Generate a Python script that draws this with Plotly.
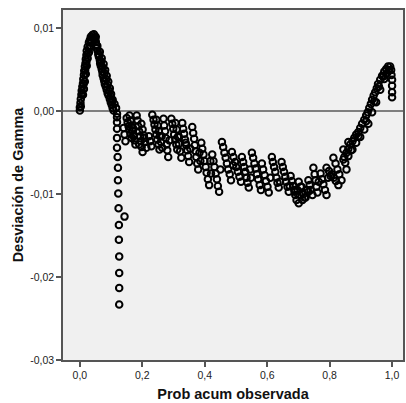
import plotly.graph_objects as go

rise_x = [0.000, 0.000, 0.002, 0.003, 0.005, 0.006, 0.008, 0.010, 0.011, 0.013, 0.014, 0.016,
          0.018, 0.019, 0.021, 0.022, 0.025, 0.029, 0.032, 0.035, 0.040, 0.045,
          0.010, 0.013, 0.016, 0.019, 0.022, 0.025, 0.029, 0.033, 0.038, 0.051,
          0.003, 0.007, 0.012, 0.017, 0.021, 0.026, 0.030, 0.036, 0.042, 0.047]
rise_y = [0.0001, 0.0005, 0.0010, 0.0015, 0.0020, 0.0025, 0.0030, 0.0034, 0.0039, 0.0044, 0.0049, 0.0054,
          0.0058, 0.0063, 0.0068, 0.0073, 0.0078, 0.0083, 0.0086, 0.0090, 0.0092, 0.0093,
          0.0020, 0.0027, 0.0036, 0.0045, 0.0055, 0.0064, 0.0071, 0.0079, 0.0085, 0.0090,
          0.0006, 0.0022, 0.0033, 0.0050, 0.0060, 0.0070, 0.0076, 0.0083, 0.0088, 0.0089]

fall_x = [0.049, 0.051, 0.053, 0.054, 0.057, 0.059, 0.061, 0.064, 0.065, 0.067, 0.070, 0.072, 0.073,
          0.076, 0.078, 0.080, 0.083, 0.086, 0.089, 0.092, 0.096, 0.099, 0.102, 0.105, 0.108,
          0.064, 0.070, 0.076, 0.081, 0.086, 0.091, 0.096, 0.100, 0.105, 0.111, 0.116,
          0.056, 0.062, 0.068, 0.074, 0.079, 0.084, 0.089, 0.094, 0.099, 0.104]
fall_y = [0.0087, 0.0084, 0.0080, 0.0076, 0.0073, 0.0069, 0.0066, 0.0062, 0.0058, 0.0055, 0.0051, 0.0048, 0.0044,
          0.0040, 0.0037, 0.0033, 0.0030, 0.0026, 0.0022, 0.0019, 0.0015, 0.0011, 0.0008, 0.0004, 0.0001,
          0.0072, 0.0064, 0.0057, 0.0050, 0.0043, 0.0036, 0.0028, 0.0021, 0.0014, 0.0009, 0.0004,
          0.0079, 0.0068, 0.0060, 0.0053, 0.0046, 0.0039, 0.0032, 0.0025, 0.0018, 0.0012]

drop_x = [0.119, 0.119, 0.119, 0.119, 0.119, 0.119, 0.121, 0.122, 0.122, 0.123, 0.124,
          0.143, 0.125, 0.125, 0.126, 0.126, 0.126, 0.126]
drop_y = [-0.0003, -0.0007, -0.0013, -0.0021, -0.0032, -0.0044, -0.0055, -0.0068, -0.0083, -0.0099, -0.0117,
          -0.0127, -0.0137, -0.0155, -0.0175, -0.0195, -0.0213, -0.0233]

band_x = [
    0.150, 0.153, 0.156, 0.159, 0.162, 0.166,
    0.159, 0.162, 0.165, 0.168, 0.171, 0.175, 0.178,
    0.182, 0.185, 0.187, 0.190, 0.193, 0.195, 0.198, 0.201,
    0.197, 0.201, 0.205, 0.209, 0.213,
    0.232, 0.236, 0.239, 0.242, 0.245, 0.248, 0.252, 0.255,
    0.245, 0.249, 0.253, 0.256, 0.260, 0.264,
    0.268, 0.270, 0.273, 0.275, 0.278, 0.280, 0.283,
    0.293, 0.296, 0.299, 0.302, 0.306, 0.309, 0.312,
    0.306, 0.310, 0.314, 0.317, 0.321, 0.325,
    0.328, 0.331, 0.334, 0.337, 0.341, 0.344, 0.347, 0.350,
    0.360, 0.363, 0.366, 0.368, 0.371, 0.373, 0.376, 0.379,
    0.389, 0.392, 0.396, 0.399, 0.403, 0.406, 0.410, 0.414,
    0.424, 0.428, 0.431, 0.435, 0.439, 0.442, 0.446,
    0.455, 0.459, 0.463, 0.467, 0.471, 0.475, 0.480, 0.484,
    0.487, 0.492, 0.497, 0.501, 0.506, 0.511, 0.516,
    0.519, 0.523, 0.526, 0.530, 0.534, 0.537, 0.541,
    0.551, 0.555, 0.559, 0.563, 0.567, 0.571, 0.576, 0.580,
    0.583, 0.587, 0.592, 0.596, 0.601, 0.605,
    0.615, 0.618, 0.622, 0.626, 0.630, 0.633, 0.637,
    0.646, 0.650, 0.654, 0.658, 0.661, 0.665, 0.669,
    0.675, 0.679, 0.683, 0.687, 0.690, 0.694,
    0.688, 0.704, 0.713, 0.701, 0.723, 0.732, 0.710,
    0.701, 0.707, 0.713, 0.720,
    0.732, 0.736, 0.739, 0.745,
    0.748, 0.752, 0.755, 0.758, 0.761,
    0.771, 0.776, 0.780, 0.785, 0.790,
    0.790, 0.798, 0.806, 0.813, 0.820, 0.828,
    0.812, 0.819, 0.825, 0.831, 0.838,
    0.847, 0.850, 0.854,
    # extra circles filling the dense streaks
    0.140, 0.143, 0.146, 0.170, 0.173, 0.190, 0.206, 0.221, 0.225, 0.229, 0.262, 0.287,
    0.316, 0.339, 0.354, 0.383, 0.386, 0.418, 0.420, 0.450, 0.491, 0.545, 0.548,
    0.610, 0.641, 0.672, 0.697, 0.716, 0.727, 0.765, 0.795, 0.803,
]
band_y = [
    -0.0008, -0.0013, -0.0018, -0.0022, -0.0027, -0.0032,
    -0.0005, -0.0011, -0.0017, -0.0023, -0.0029, -0.0035, -0.0040,
    -0.0005, -0.0011, -0.0018, -0.0024, -0.0030, -0.0036, -0.0043, -0.0049,
    -0.0015, -0.0022, -0.0029, -0.0037, -0.0044,
    -0.0004, -0.0010, -0.0016, -0.0022, -0.0028, -0.0034, -0.0040, -0.0046,
    -0.0010, -0.0017, -0.0024, -0.0030, -0.0037, -0.0044,
    -0.0009, -0.0017, -0.0024, -0.0032, -0.0040, -0.0047, -0.0055,
    -0.0009, -0.0015, -0.0021, -0.0028, -0.0034, -0.0040, -0.0046,
    -0.0014, -0.0022, -0.0031, -0.0039, -0.0048, -0.0056,
    -0.0014, -0.0021, -0.0027, -0.0034, -0.0041, -0.0047, -0.0054, -0.0061,
    -0.0019, -0.0026, -0.0033, -0.0041, -0.0048, -0.0055, -0.0063, -0.0070,
    -0.0038, -0.0045, -0.0052, -0.0060, -0.0067, -0.0074, -0.0082, -0.0089,
    -0.0052, -0.0060, -0.0067, -0.0075, -0.0082, -0.0090, -0.0097,
    -0.0037, -0.0043, -0.0050, -0.0056, -0.0063, -0.0070, -0.0076, -0.0083,
    -0.0049, -0.0055, -0.0061, -0.0067, -0.0073, -0.0079, -0.0085,
    -0.0055, -0.0061, -0.0067, -0.0073, -0.0080, -0.0086, -0.0092,
    -0.0050, -0.0056, -0.0063, -0.0069, -0.0076, -0.0082, -0.0089, -0.0095,
    -0.0063, -0.0070, -0.0077, -0.0084, -0.0091, -0.0098,
    -0.0055, -0.0061, -0.0067, -0.0073, -0.0080, -0.0086, -0.0092,
    -0.0061, -0.0067, -0.0073, -0.0079, -0.0085, -0.0091, -0.0097,
    -0.0078, -0.0084, -0.0090, -0.0095, -0.0101, -0.0107,
    -0.0097, -0.0101, -0.0107, -0.0111, -0.0104, -0.0097, -0.0091,
    -0.0085, -0.0091, -0.0098, -0.0104,
    -0.0083, -0.0089, -0.0095, -0.0101,
    -0.0068, -0.0076, -0.0083, -0.0091, -0.0098,
    -0.0075, -0.0082, -0.0088, -0.0095, -0.0101,
    -0.0068, -0.0072, -0.0076, -0.0080, -0.0084, -0.0089,
    -0.0056, -0.0063, -0.0070, -0.0076, -0.0083,
    -0.0055, -0.0062, -0.0070,
    -0.0020, -0.0028, -0.0036, -0.0020, -0.0030, -0.0040, -0.0032, -0.0030, -0.0036, -0.0042, -0.0030, -0.0035,
    -0.0030, -0.0038, -0.0045, -0.0050, -0.0060, -0.0060, -0.0075, -0.0070, -0.0065, -0.0070, -0.0080,
    -0.0080, -0.0085, -0.0090, -0.0095, -0.0100, -0.0095, -0.0085, -0.0080, -0.0078,
]

end_x = [0.844, 0.854, 0.860, 0.866, 0.873, 0.879, 0.885, 0.892, 0.898, 0.904, 0.911, 0.917,
         0.922, 0.927, 0.932, 0.936, 0.941, 0.946, 0.951, 0.955, 0.962, 0.968, 0.975, 0.981,
         0.987, 0.994, 0.997, 0.998, 1.000, 1.000, 1.000, 1.000,
         0.860, 0.873, 0.885, 0.898, 0.911, 0.924, 0.936, 0.949, 0.962, 0.975, 0.984,
         0.844, 0.860, 0.869, 0.892, 0.917, 0.943, 0.958, 0.972, 0.990]
end_y = [-0.0058, -0.0050, -0.0045, -0.0040, -0.0036, -0.0032, -0.0028, -0.0025, -0.0020, -0.0015, -0.0010, -0.0005,
         -0.0001, 0.0004, 0.0009, 0.0014, 0.0019, 0.0023, 0.0028, 0.0033, 0.0038, 0.0043, 0.0048, 0.0051,
         0.0054, 0.0054, 0.0050, 0.0044, 0.0038, 0.0031, 0.0023, 0.0017,
         -0.0054, -0.0046, -0.0038, -0.0031, -0.0022, -0.0015, -0.0001, 0.0011, 0.0026, 0.0039, 0.0046,
         -0.0046, -0.0037, -0.0047, -0.0030, -0.0012, 0.0012, 0.0030, 0.0042, 0.0050]

x_all = rise_x + fall_x + drop_x + band_x + end_x
y_all = rise_y + fall_y + drop_y + band_y + end_y

x_ticks = [0.0, 0.2, 0.4, 0.6, 0.8, 1.0]
x_tick_labels = ["0,0", "0,2", "0,4", "0,6", "0,8", "1,0"]
y_ticks = [0.01, 0.0, -0.01, -0.02, -0.03]
y_tick_labels = ["0,01", "0,00", "-0,01", "-0,02", "-0,03"]

fig = go.Figure()
fig.add_trace(go.Scatter(
    x=x_all, y=y_all, mode="markers",
    marker=dict(symbol="circle-open", size=6.5, color="black", line=dict(width=2, color="black")),
    showlegend=False, hoverinfo="skip",
))

axis_font = dict(family="Liberation Sans, Arial, sans-serif", size=10.5, color="#222222")
title_font = dict(family="Liberation Sans, Arial, sans-serif", size=14.5, color="#111111")

fig.update_layout(
    width=406, height=403,
    margin=dict(l=63, r=1, t=10, b=43),
    paper_bgcolor="white", plot_bgcolor="#F0F0F0",
    xaxis=dict(
        range=[-0.054, 1.035], tickvals=x_ticks, ticktext=x_tick_labels,
        showgrid=False, zeroline=False, showline=True, linecolor="#555555", linewidth=1.5,
        mirror=True, ticks="outside", ticklen=5, tickcolor="#555555", tickwidth=1.5,
        tickfont=axis_font,
        title=dict(text="<b>Prob acum observada</b>", font=title_font, standoff=9),
    ),
    yaxis=dict(
        range=[-0.0300, 0.01223], tickvals=y_ticks, ticktext=y_tick_labels,
        showgrid=False, zeroline=True, zerolinecolor="#7f7f7f", zerolinewidth=1.5,
        showline=True, linecolor="#555555", linewidth=1.5,
        mirror=True, ticks="outside", ticklen=5, tickcolor="#555555", tickwidth=1.5,
        tickfont=axis_font,
        title=dict(text="<b>Desviación de Gamma</b>", font=title_font, standoff=3),
    ),
)

fig.write_html("out.html")
